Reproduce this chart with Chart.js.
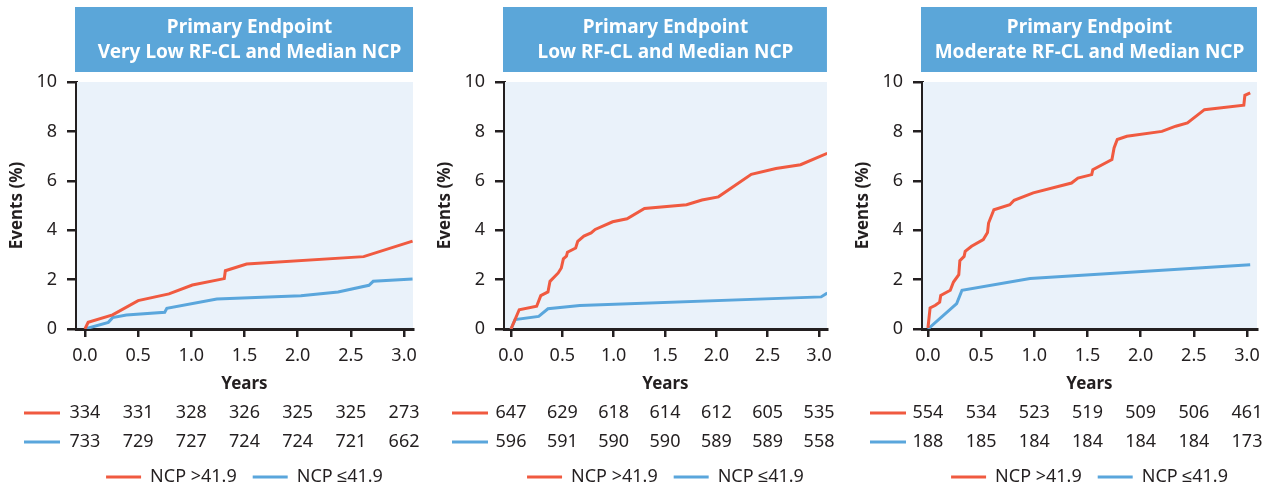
<!DOCTYPE html>
<html>
<head>
<meta charset="utf-8">
<script src="https://cdn.jsdelivr.net/npm/chart.js@4.4.1/dist/chart.umd.min.js"></script>
<style>
  html, body { margin: 0; padding: 0; background: #fff; overflow: hidden; }
  .panel { position: absolute; top: 0; }
</style>
</head>
<body>
<div class="panel" style="left:0px"><canvas id="c1" width="425" height="496"></canvas></div>
<div class="panel" style="left:428px"><canvas id="c2" width="412" height="496"></canvas></div>
<div class="panel" style="left:846px"><canvas id="c3" width="429" height="496"></canvas></div>
<script>
// tick labels on the time axis
var yearTicks = [0, 0.5, 1, 1.5, 2, 2.5, 3];
var seriesNames = ["NCP >41.9", "NCP \u226441.9"];

var titles1 = ["Primary Endpoint", "Very Low RF-CL and Median NCP"];
var titles2 = ["Primary Endpoint", "Low RF-CL and Median NCP"];
var titles3 = ["Primary Endpoint", "Moderate RF-CL and Median NCP"];

// panel 1 - very low RF-CL
var vlowHighT = [0, 0.03, 0.26, 0.50, 0.79, 1.01, 1.31, 1.32, 1.52, 2.62, 3.08];
var vlowHighV = [0, 0.27, 0.57, 1.15, 1.42, 1.78, 2.04, 2.36, 2.63, 2.93, 3.56];
var vlowLowT = [0, 0.22, 0.26, 0.39, 0.75, 0.77, 1.24, 2.03, 2.38, 2.67, 2.71, 3.08];
var vlowLowV = [0, 0.27, 0.46, 0.57, 0.68, 0.84, 1.21, 1.35, 1.50, 1.77, 1.93, 2.02];
var vlowRiskHigh = [334, 331, 328, 326, 325, 325, 273];
var vlowRiskLow = [733, 729, 727, 724, 724, 721, 662];

// panel 2 - low RF-CL
var lowHighT = [0, 0.08, 0.25, 0.29, 0.36, 0.38, 0.46, 0.49, 0.51, 0.54, 0.55, 0.63, 0.65, 0.71, 0.78, 0.82, 0.99, 1.13, 1.30, 1.71, 1.86, 2.02, 2.34, 2.58, 2.82, 3.08];
var lowHighV = [0, 0.78, 0.92, 1.35, 1.50, 1.93, 2.27, 2.47, 2.84, 2.95, 3.11, 3.28, 3.55, 3.76, 3.89, 4.03, 4.34, 4.46, 4.88, 5.03, 5.22, 5.35, 6.26, 6.50, 6.65, 7.11];
var lowLowT = [0, 0.04, 0.27, 0.36, 0.67, 3.02, 3.08];
var lowLowV = [0, 0.38, 0.51, 0.82, 0.95, 1.30, 1.46];
var lowRiskHigh = [647, 629, 618, 614, 612, 605, 535];
var lowRiskLow = [596, 591, 590, 590, 589, 589, 558];

// panel 3 - moderate RF-CL
var modHighT = [0, 0.02, 0.07, 0.11, 0.12, 0.21, 0.24, 0.29, 0.30, 0.34, 0.35, 0.41, 0.52, 0.56, 0.57, 0.62, 0.77, 0.81, 0.99, 1.35, 1.41, 1.54, 1.55, 1.73, 1.75, 1.78, 1.87, 2.20, 2.33, 2.44, 2.60, 2.97, 2.98, 3.03];
var modHighV = [0.04, 0.85, 0.96, 1.09, 1.36, 1.57, 1.90, 2.20, 2.77, 2.94, 3.14, 3.35, 3.62, 3.91, 4.29, 4.83, 5.03, 5.21, 5.51, 5.91, 6.11, 6.25, 6.45, 6.86, 7.33, 7.67, 7.80, 8.00, 8.21, 8.34, 8.88, 9.06, 9.46, 9.56];
var modLowT = [0, 0.27, 0.32, 0.96, 3.03];
var modLowV = [0, 1.03, 1.57, 2.04, 2.60];
var modRiskHigh = [554, 534, 523, 519, 509, 506, 461];
var modRiskLow = [188, 185, 184, 184, 184, 184, 173];

var ink = "#231f20";
var redCol = "#f05a40";
var blueCol = "#5aa6dc";
var bannerCol = "#5ba6d9";
var plotBg = "#eaf2fa";
var fam = "'Noto Sans', sans-serif";

function pts(t, v) {
  var out = [];
  for (var i = 0; i < t.length; i++) out.push({ x: t[i], y: v[i] });
  return out;
}

// banner, plot background and number-at-risk rows
var panelDeco = {
  id: "panelDeco",
  beforeDatasetsDraw: function(chart) {
    var a = chart.chartArea, ctx = chart.ctx;
    ctx.save();
    ctx.fillStyle = plotBg;
    ctx.fillRect(a.left + 1, a.top, a.right - a.left - 1, a.bottom - a.top - 1);
    ctx.restore();
  },
  afterDraw: function(chart) {
    var a = chart.chartArea, ctx = chart.ctx;
    var o = chart.options.plugins.panelDeco;
    ctx.save();
    // banner
    ctx.fillStyle = bannerCol;
    ctx.fillRect(a.left - 1, 7, a.right - a.left + 1, 65);
    ctx.fillStyle = "#fff";
    ctx.font = "bold 19px " + fam;
    ctx.textAlign = "center";
    ctx.textBaseline = "middle";
    var cx = (a.left + a.right) / 2 + o.shift;
    ctx.fillText(o.titles[0], cx, 28);
    ctx.fillText(o.titles[1], cx, 53, a.right - a.left - 20);
    // number at risk
    var xs = chart.scales.x;
    var rows = [o.riskHigh, o.riskLow];
    var cols = [redCol, blueCol];
    ctx.font = "18px " + fam;
    for (var r = 0; r < rows.length; r++) {
      var y = a.bottom + 84 + r * 29;
      ctx.strokeStyle = cols[r];
      ctx.lineWidth = 3;
      ctx.beginPath();
      ctx.moveTo(a.left - 52, y);
      ctx.lineTo(a.left - 16, y);
      ctx.stroke();
      ctx.fillStyle = ink;
      for (var i = 0; i < yearTicks.length; i++) {
        ctx.fillText(String(rows[r][i]), xs.getPixelForValue(yearTicks[i]), y);
      }
    }
    ctx.restore();
  }
};

function makePanel(id, titles, hT, hV, lT, lV, riskHigh, riskLow, xMin, xMax, padRight, shift) {
  return new Chart(document.getElementById(id), {
    type: "line",
    data: {
      datasets: [
        { label: seriesNames[0], data: pts(hT, hV), borderColor: redCol, backgroundColor: redCol, borderWidth: 3, pointRadius: 0, tension: 0, fill: false },
        { label: seriesNames[1], data: pts(lT, lV), borderColor: blueCol, backgroundColor: blueCol, borderWidth: 3, pointRadius: 0, tension: 0, fill: false }
      ]
    },
    options: {
      responsive: false,
      animation: false,
      layout: { padding: { top: 82, right: padRight, bottom: 0, left: 0 } },
      plugins: {
        tooltip: { enabled: false },
        legend: {
          position: "bottom",
          fullSize: false,
          labels: {
            boxWidth: 35,
            boxHeight: 3,
            padding: 16,
            color: ink,
            font: { family: fam, size: 18 },
            generateLabels: function(chart) {
              var items = Chart.defaults.plugins.legend.labels.generateLabels(chart);
              items.forEach(function(it) { it.lineWidth = 0; it.fillStyle = it.strokeStyle; });
              return items;
            }
          }
        },
        panelDeco: { titles: titles, riskHigh: riskHigh, riskLow: riskLow, shift: shift }
      },
      scales: {
        x: {
          type: "linear",
          min: xMin,
          max: xMax,
          afterBuildTicks: function(s) { s.ticks = yearTicks.map(function(v) { return { value: v }; }); },
          afterFit: function(s) { s.height = 123; },
          ticks: { color: ink, font: { family: fam, size: 18 }, padding: 8, autoSkip: false, maxRotation: 0,
                   callback: function(v) { return Number(v).toFixed(1); } },
          grid: { drawOnChartArea: false, tickLength: 8, color: ink, lineWidth: 2.5 },
          border: { color: ink, width: 3 },
          title: { display: true, text: "Years", color: ink, font: { family: fam, size: 17, weight: "bold" },
                   padding: { top: 0, bottom: 58 } }
        },
        y: {
          min: 0,
          max: 10,
          afterFit: function(s) { s.width = 76; },
          ticks: { stepSize: 2, color: ink, font: { family: fam, size: 18 }, padding: 10 },
          grid: { drawOnChartArea: false, tickLength: 9, color: ink, lineWidth: 2.5 },
          border: { color: ink, width: 3 },
          title: { display: true, text: "Events (%)", color: ink, font: { family: fam, size: 17, weight: "bold" },
                   padding: { top: 7, bottom: 0 } }
        }
      }
    },
    plugins: [panelDeco]
  });
}

makePanel("c1", titles1, vlowHighT, vlowHighV, vlowLowT, vlowLowV, vlowRiskHigh, vlowRiskLow, -0.084, 3.084, 9, 5);
makePanel("c2", titles2, lowHighT, lowHighV, lowLowT, lowLowV, lowRiskHigh, lowRiskLow, -0.068, 3.077, 10, 0);
makePanel("c3", titles3, modHighT, modHighV, modLowT, modLowV, modRiskHigh, modRiskLow, -0.056, 3.094, 18, 0);
</script>
</body>
</html>
